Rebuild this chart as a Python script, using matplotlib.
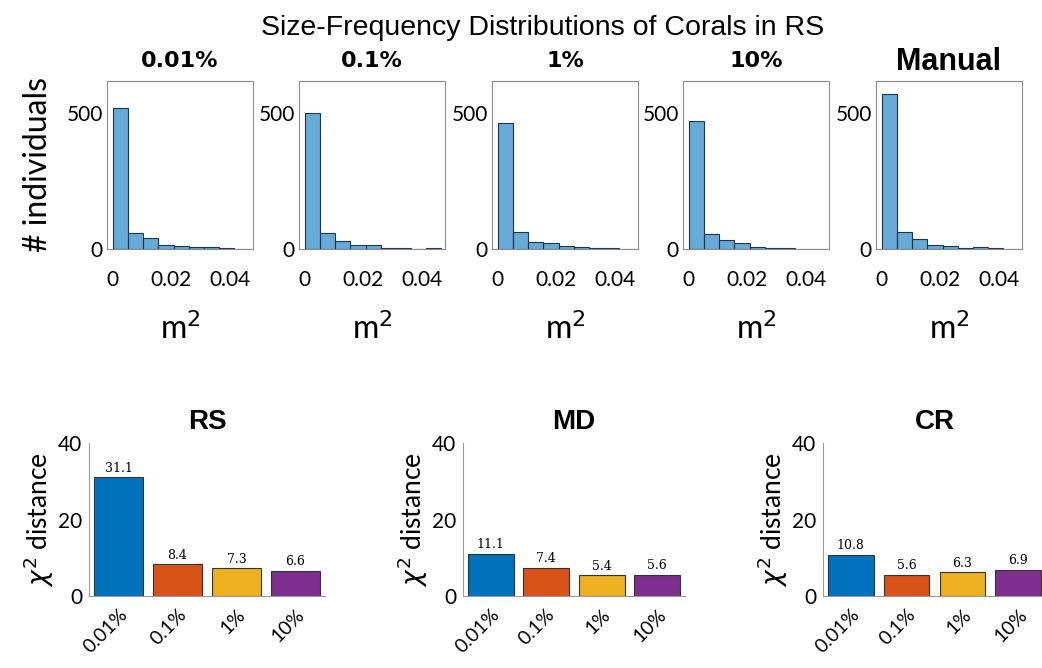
import numpy as np
import matplotlib
matplotlib.use("Agg")
import matplotlib.pyplot as plt
from matplotlib.transforms import ScaledTranslation

# histogram panels (counts per bin)
hist_titles = ["0.01%", "0.1%", "1%", "10%", "Manual"]
bin_width = 0.0052
counts_001 = [517, 58, 40, 15, 11, 7, 7, 2, 1]
counts_01 = [499, 58, 29, 16, 14, 3, 3, 1, 3]
counts_1 = [464, 61, 25, 23, 12, 8, 5, 2, 1]
counts_10 = [470, 55, 33, 21, 7, 4, 2, 1, 1]
counts_manual = [569, 61, 36, 15, 10, 3, 6, 2, 1]
hist_counts = [counts_001, counts_01, counts_1, counts_10, counts_manual]

# chi-square distances
bar_labels = ["0.01%", "0.1%", "1%", "10%"]
sites = ["RS", "MD", "CR"]
chi_rs = [31.1, 8.4, 7.3, 6.6]
chi_md = [11.1, 7.4, 5.4, 5.6]
chi_cr = [10.8, 5.6, 6.3, 6.9]
chi_values = [chi_rs, chi_md, chi_cr]
bar_colors = ["#0072BD", "#D95319", "#EDB120", "#7E2F8E"]

W, H = 1042, 668
fig = plt.figure(figsize=(W / 100, H / 100), dpi=100)

def px_axes(left, top, width, height):
    return fig.add_axes([left / W, 1 - (top + height) / H, width / W, height / H])

tick_font = "Lato"

# top row: histograms
hist_lefts = [107, 299, 492, 683, 876]
edges = np.arange(10) * bin_width
for i, (left, title, counts) in enumerate(zip(hist_lefts, hist_titles, hist_counts)):
    ax = px_axes(left, 81, 146, 168)
    ax.bar(edges[:-1], counts, width=bin_width, align="edge",
           color=(0, 0.447, 0.741, 0.6), edgecolor="#1e3550", linewidth=0.8)
    ax.set_xlim(-0.002, 0.048)
    ax.set_ylim(0, 618)
    ax.set_xticks([0, 0.02, 0.04])
    ax.set_xticklabels(["0", "0.02", "0.04"], fontsize=15, fontfamily=tick_font)
    ax.set_yticks([0, 500])
    ax.set_yticklabels(["0", "500"], fontsize=15, fontfamily=tick_font)
    ax.tick_params(length=0, pad=3)
    ax.tick_params(axis="x", pad=15)
    for s in ax.spines.values():
        s.set_color("#8a8a8a")
        s.set_linewidth(0.8)
    if title == "Manual":
        ax.set_title(title, fontsize=22, fontweight="bold", family="Liberation Sans", pad=8)
    else:
        ax.set_title(title, fontsize=16, fontweight="bold", family="DejaVu Sans", pad=10)
    ax.set_xlabel("m$^2$", fontsize=23, family=tick_font, labelpad=16)
    if i == 0:
        ax.set_ylabel("# individuals", fontsize=23, family=tick_font, labelpad=10)

fig.text(543 / W, 1 - 28 / H, "Size-Frequency Distributions of Corals in RS",
         ha="center", va="center", fontsize=20.5, family="Liberation Sans")

# bottom row: chi-square distance bars
bar_axes = [(89, 236), (463, 222), (823, 223)]
x = np.arange(1, 5)
shift = ScaledTranslation(0.17, 0, fig.dpi_scale_trans)
for (left, width), site, vals in zip(bar_axes, sites, chi_values):
    ax = px_axes(left, 443, width, 153)
    bars = ax.bar(x, vals, width=0.82, color=bar_colors, edgecolor="#333333", linewidth=0.8)
    for b, v in zip(bars, vals):
        ax.text(b.get_x() + b.get_width() / 2, v + 0.6, f"{v:.1f}",
                ha="center", va="bottom", fontsize=9, family="DejaVu Serif")
    ax.set_xlim(0.5, 4.5)
    ax.set_ylim(0, 40)
    ax.set_yticks([0, 20, 40])
    ax.set_yticklabels(["0", "20", "40"], fontsize=15, fontfamily=tick_font)
    ax.set_xticks(x)
    ax.set_xticklabels(bar_labels, rotation=45, ha="right", va="top", rotation_mode="anchor",
                       fontsize=14, fontfamily=tick_font)
    for lab in ax.get_xticklabels():
        lab.set_transform(lab.get_transform() + shift)
    ax.tick_params(length=0, pad=5)
    ax.tick_params(axis="x", pad=7)
    ax.spines["top"].set_visible(False)
    ax.spines["right"].set_visible(False)
    for s in ("left", "bottom"):
        ax.spines[s].set_color("#9a9a9a")
        ax.spines[s].set_linewidth(0.8)
    ax.set_title(site, fontsize=20, fontweight="bold", family="Liberation Sans", pad=10)
    ax.set_ylabel(r"$\chi^2$ distance", fontsize=19, family=tick_font, labelpad=1)

fig.savefig("out.png", dpi=100, facecolor="white")
